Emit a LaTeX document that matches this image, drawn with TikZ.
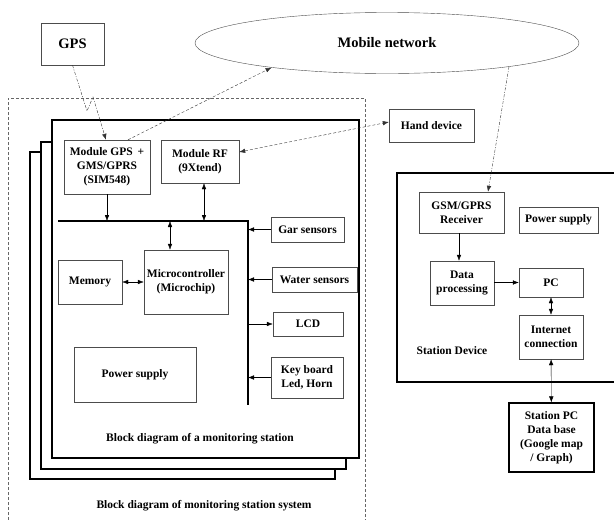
\documentclass[tikz,border=0pt]{standalone}
\usepackage{fontspec}
\setmainfont{Liberation Serif}
\usetikzlibrary{shapes.geometric,arrows.meta}

\begin{document}
\begin{tikzpicture}[x=1pt,y=-1pt,font=\bfseries\fontsize{11.5}{14}\selectfont,>={Latex[length=6pt,width=4.5pt]}]
    \tikzstyle{block}=[draw=black!70,align=center,inner sep=1pt]
    \tikzstyle{board}=[draw=black,line width=1.4pt,fill=white]
    \tikzstyle{arr}=[->]
    \tikzstyle{link}=[black!80,dash pattern=on 3pt off 2pt]
    \tikzstyle{radio}=[black!80,dash pattern=on 3pt off 1.5pt on 1pt off 1.5pt]
    \useasboundingbox (0,0) rectangle (614,520);

    % system frame
    \draw[black!60,dash pattern=on 3pt off 2pt] (8,530) |- (365,98) -- (365,530);

    \node[block,minimum width=63,minimum height=42,font=\bfseries\fontsize{14.5}{16}\selectfont] (gps) at (72.5,44) {GPS};
    \node[ellipse,draw=black!70,minimum width=384,minimum height=61,font=\bfseries\fontsize{14.5}{16}\selectfont] (net) at (387,43) {Mobile network};

    % stacked stations
    \draw[board] (30,152) rectangle (335,479);
    \draw[board] (41,142) rectangle (346,469);
    \draw[board] (52,120) rectangle (359,458);

    \node[block,minimum width=86,minimum height=54] (gsm) at (107,167) {Module GPS \,+\\GMS/GPRS\\(SIM548)};
    \node[block,minimum width=78,minimum height=43] (rf) at (200,161.5) {Module RF\\(9Xtend)};
    \node[block,minimum width=84,minimum height=64] (mcu) at (186,282) {Microcontroller\\(Microchip)};
    \node[block,minimum width=64,minimum height=44] (mem) at (90,282) {Memory};
    \node[block,minimum width=122,minimum height=55] (pwr) at (135,374.5) {Power supply};

    \node[block,minimum width=73,minimum height=25] (gar) at (307.5,229.5) {Gar sensors};
    \node[block,minimum width=85,minimum height=25] (water) at (314.5,279.5) {Water sensors};
    \node[block,minimum width=70,minimum height=24] (lcd) at (308,324) {LCD};
    \node[block,minimum width=72,minimum height=41] (key) at (307,377.5) {Key board\\Led, Horn};

    \node (title) at (200,439) {Block diagram of a monitoring station};
    \node (systitle) at (204,506) {Block diagram of monitoring station system};

    % bus
    \coordinate (busl) at (58,221);
    \coordinate (busr) at (248,221);
    \coordinate (busb) at (248,405);
    \draw[line width=1.6pt] (busl) -- (busr) -- (busb);

    \draw[arr] (gsm.south) -- (gsm.south |- busl);
    \draw[<->] ([xshift=4pt]rf.south) -- ([xshift=4pt]rf.south |- busl);
    \draw[<->] ([xshift=-16pt]mcu.north |- busl) -- ([xshift=-16pt]mcu.north);
    \draw[<->] (mem) -- (mcu);
    \foreach \from in {gar,water,key}
        \draw[arr] (\from.west) -- (\from.west -| busr);
    \draw[arr] (lcd.west -| busr) -- (lcd.west);

    % wireless links
    \coordinate (bolt1) at (87,111);
    \coordinate (bolt2) at (93,97);
    \draw[radio,->] (gps.south) -- (bolt1) -- (bolt2) -- ([xshift=-1pt]gsm.north);
    \draw[link,->] ([xshift=21pt]gsm.north) -- (net.192);
    \node[block,minimum width=85,minimum height=33] (hand) at (431.5,125.5) {Hand device};
    \draw[link,<->] ([yshift=9.5pt]rf.east) -- ([yshift=3.5pt]hand.west);

    % station device
    \draw[board] (397,173) rectangle (630,382);
    \node[block,minimum width=85,minimum height=41] (rx) at (461.5,212.5) {GSM/GPRS\\Receiver};
    \node[block,minimum width=79,minimum height=26] (pws) at (558.5,220) {Power supply};
    \node[block,minimum width=64,minimum height=44] (dp) at (462,283) {Data\\processing};
    \node[block,minimum width=64,minimum height=29] (pc) at (551,282.5) {PC};
    \node[block,minimum width=64,minimum height=44] (inet) at (551,337) {Internet\\connection};
    \node (stlabel) at (452,351) {Station Device};
    \node[block,draw=black,line width=1.2pt,minimum width=85,minimum height=69] (spc) at (551.5,437.5) {Station PC\\Data base\\(Google map\\/ Graph)};

    \draw[radio,->] (net.-11) -- ([xshift=26.5pt]rx.north);
    \draw[arr] ([xshift=-2.5pt]rx.south) -- ([xshift=-2.5pt]rx.south |- dp.north);
    \draw[arr] (dp.east |- pc) -- (pc.west);
    \draw[<->] (pc) -- (inet);
    \draw[<->] (inet) -- (spc);
\end{tikzpicture}
\end{document}
